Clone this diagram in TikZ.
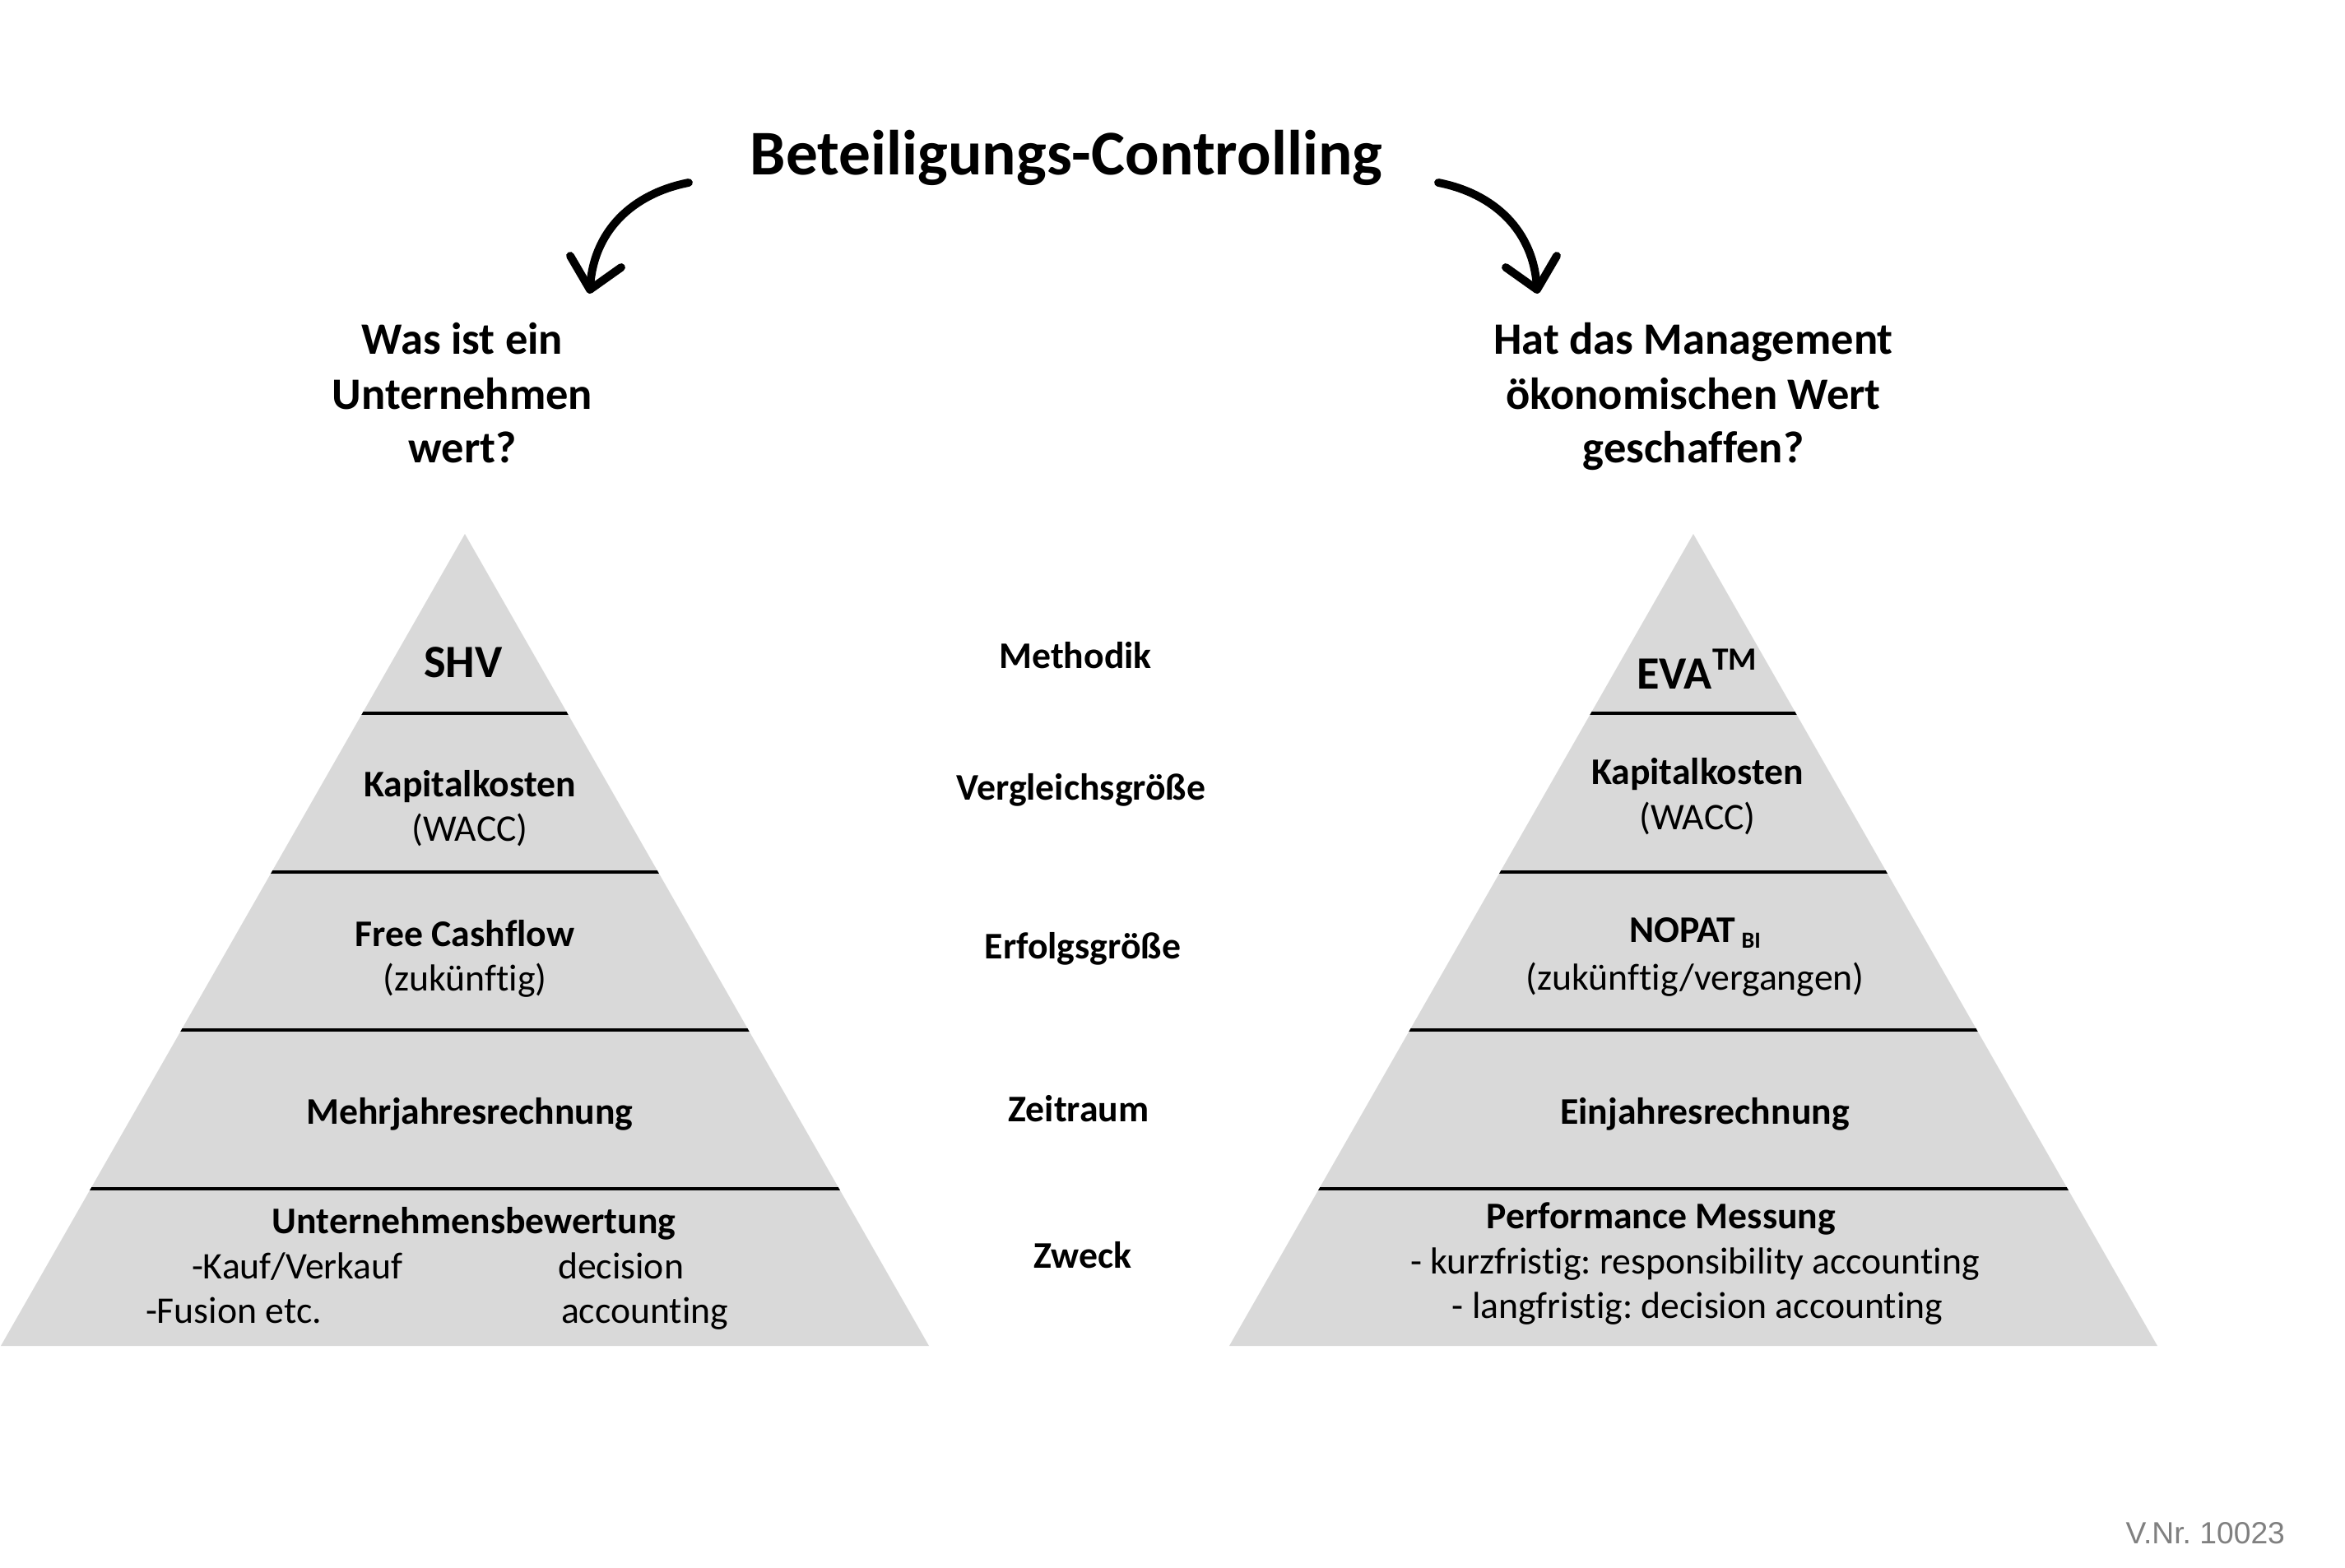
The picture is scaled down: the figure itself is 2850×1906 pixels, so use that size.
\documentclass[tikz,border=0pt]{standalone}
\usepackage{fontspec}
\setmainfont{Carlito}[Ligatures=NoCommon]
\newfontfamily\arialfont{Liberation Sans}
\usetikzlibrary{calc}
\definecolor{pyrgray}{HTML}{D9D9D9}
\definecolor{nrgray}{HTML}{808080}
\newcommand{\drawpyramid}[1]{%
  \fill[pyrgray] (#1,649) -- (#1-564,1636) -- (#1+564,1636) -- cycle;
  \begin{scope}
    \clip (#1,649) -- (#1-564,1636) -- (#1+564,1636) -- cycle;
    \foreach \yy in {867,1060,1252,1445} \draw[sepline] (#1-600,\yy) -- (#1+600,\yy);
  \end{scope}}
\frenchspacing
\begin{document}
\begin{tikzpicture}[x=0.01cm,y=-0.01cm,
  every node/.style={inner sep=0pt, outer sep=0pt},
  titletext/.style={font=\fontsize{22}{26}\selectfont\bfseries, anchor=base},
  question/.style={font=\fontsize{15.5}{18.6}\selectfont\bfseries, anchor=base},
  lvbold/.style={font=\fontsize{13}{15.6}\selectfont\bfseries, anchor=base},
  lvtext/.style={font=\fontsize{13}{15.6}\selectfont, anchor=base},
  headtext/.style={font=\fontsize{16}{19}\selectfont\bfseries, anchor=base},
  midlabel/.style={font=\fontsize{13}{15.6}\selectfont\bfseries, anchor=base},
  sepline/.style={line width=0.9pt},
  bigarrow/.style={line width=2.8pt, line cap=round, line join=round},
]
\useasboundingbox (0,0) rectangle (2850,1906);

% title and arrows
\node[titletext] (title) at (1296,213) {Beteiligungs-Controlling};
\coordinate (la-s) at (837,222);
\coordinate (la-e) at (717,352);
\coordinate (ra-s) at (1748,222);
\coordinate (ra-e) at (1868,352);
\draw[bigarrow] (la-s) .. controls (770,235) and (720,280) .. (la-e);
\draw[bigarrow] ($(la-e)+(-24,-41)$) -- (la-e) -- ($(la-e)+(38,-27)$);
\draw[bigarrow] (ra-s) .. controls (1815,235) and (1865,280) .. (ra-e);
\draw[bigarrow] ($(ra-e)+(24,-41)$) -- (ra-e) -- ($(ra-e)+(-38,-27)$);

% questions
\node[question] (q1a) at (562,431) {Was ist ein};
\node[question] (q1b) at (562,497) {Unternehmen};
\node[question] (q1c) at (562,562) {wert?};
\node[question] (q2a) at (2058,431) {Hat das Management};
\node[question] (q2b) at (2058,497) {ökonomischen Wert};
\node[question] (q2c) at (2058,562) {geschaffen?};

% pyramids
\drawpyramid{565}
\drawpyramid{2058}

% left pyramid texts
\node[headtext] (shv) at (563,823) {SHV};
\node[lvbold] (lk1) at (571,968) {Kapitalkosten};
\node[lvtext] (lk2) at (571,1022) {(WACC)};
\node[lvbold] (lf1) at (565,1150) {Free Cashflow};
\node[lvtext] (lf2) at (565,1204) {(zukünftig)};
\node[lvbold] (lm) at (571,1366) {Mehrjahresrechnung};
\node[lvbold] (lu) at (576,1499) {Unternehmensbewertung};
\node[lvtext, anchor=base west] (lu1) at (233,1554) {-Kauf/Verkauf};
\node[lvtext, anchor=base west] (lu2) at (678,1554) {decision};
\node[lvtext, anchor=base west] (lu3) at (177,1608) {-Fusion etc.};
\node[lvtext, anchor=base west] (lu4) at (682,1608) {accounting};

% right pyramid texts
\node[headtext] (eva) at (2063,837) {EVA\textsuperscript{TM}};
\node[lvbold] (rk1) at (2063,953) {Kapitalkosten};
\node[lvtext] (rk2) at (2063,1008) {(WACC)};
\node[lvbold] (rn1) at (2060,1145) {NOPAT\,\raisebox{-0.35ex}{\fontsize{8}{9}\selectfont BI}};
\node[lvtext] (rn2) at (2060,1203) {(zukünftig/vergangen)};
\node[lvbold] (re) at (2072,1366) {Einjahresrechnung};
\node[lvbold] (rp) at (2019,1493) {Performance Messung};
\node[lvtext] (rp1) at (2060,1548) {- kurzfristig: responsibility accounting};
\node[lvtext] (rp2) at (2063,1602) {- langfristig: decision accounting};

% middle labels
\node[midlabel] (m1) at (1307,812) {Methodik};
\node[midlabel] (m2) at (1314,972) {Vergleichsgröße};
\node[midlabel] (m3) at (1316,1165) {Erfolgsgröße};
\node[midlabel] (m4) at (1311,1363) {Zeitraum};
\node[midlabel] (m5) at (1316,1541) {Zweck};

% number
\node[font=\arialfont\fontsize{10.6}{12}\selectfont, text=nrgray, anchor=base east] (vnr) at (2777,1876) {V.Nr. 10023};
\end{tikzpicture}
\end{document}
